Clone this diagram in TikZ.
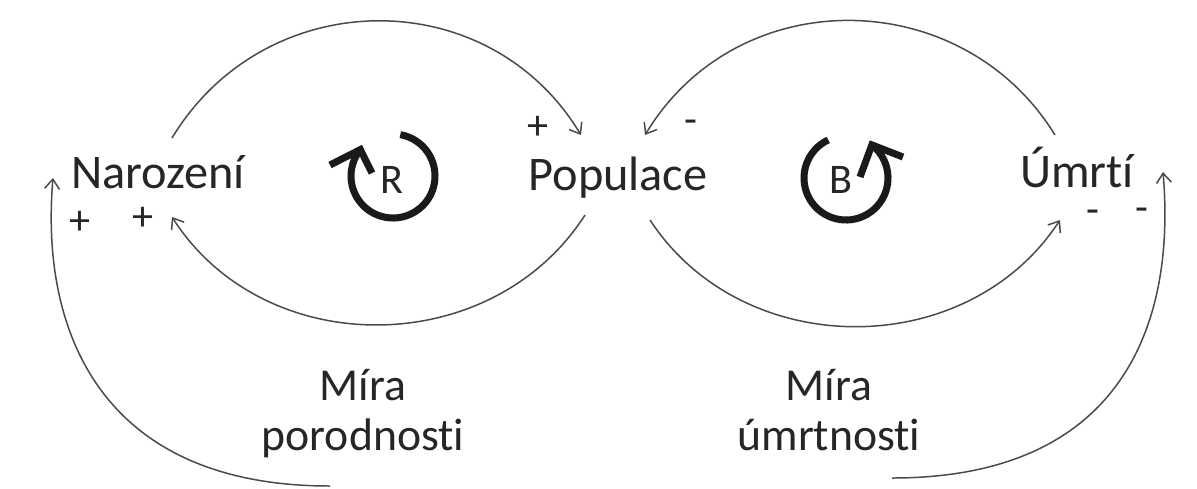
\documentclass[tikz,border=0pt]{standalone}
\usepackage{fontspec}
\setmainfont{Carlito}[Ligatures={NoCommon,NoRequired,NoContextual}]
\usetikzlibrary{arrows.meta,calc}
\definecolor{txt}{HTML}{262626}
\definecolor{ln}{HTML}{4A4A4A}
\definecolor{sym}{HTML}{1A1A1A}
\tikzset{
  lbl/.style={inner sep=0pt, text=txt, font=\fontsize{27.5pt}{28pt}\selectfont},
  rate/.style={inner sep=0pt, text=txt, align=center, anchor=north, font=\fontsize{26pt}{28.5pt}\selectfont},
  sign/.style={inner sep=0pt, text=txt, font=\fontsize{24pt}{24pt}\selectfont},
  link/.style={draw=ln, line width=0.85pt, -{Straight Barb[length=5.5pt,width=8.5pt]}},
  loopsym/.style={draw=sym, line width=4pt},
  loopchar/.style={inner sep=0pt, text=txt, font=\fontsize{24pt}{24pt}\selectfont},
}
\begin{document}
\begin{tikzpicture}[x=0.02cm,y=-0.02cm]
\useasboundingbox[fill=white] (0,0) rectangle (1197,488);
% main variables
\node[lbl, anchor=base] (nar) at (158,188) {Narození};
\node[lbl, anchor=base] (pop) at (618,190) {Populace};
\node[lbl, anchor=base] (umr) at (1077,187) {Úmrtí};
% rates
\node[rate] (mp) at (363,369) {Míra\\porodnosti};
\node[rate] (mu) at (829,369) {Míra\\úmrtnosti};
% connectors
\draw[link] ($(nar.base)+(14,-50)$) .. controls (265,-16) and (488,-19) .. ($(pop.base)+(-37,-55)$);
\draw[link] ($(pop.base)+(-33,25)$) .. controls (492,360) and (265,362) .. ($(nar.base)+(14,29)$);
\draw[link] ($(umr.base)+(-22,-52)$) .. controls (962,-16) and (738,-19) .. ($(pop.base)+(27,-55)$);
\draw[link] ($(pop.base)+(32,30)$) .. controls (743,362) and (967,362) .. ($(umr.base)+(-17,33)$);
\draw[link] ($(mp.north)+(-33,117)$) .. controls (100,486) and (40,330) .. ($(nar.base)+(-105,-10)$);
\draw[link] ($(mu.north)+(63,109)$) .. controls (1122,478) and (1176,324) .. ($(umr.base)+(86,-15)$);
% polarity signs
\node[sign] (s1) at (538,128) {+};
\node[sign] (s2) at (691,127) {-};
\node[sign] (s3) at (80,223) {+};
\node[sign] (s4) at (143,219) {+};
\node[sign] (s5) at (1093,217) {-};
\node[sign] (s6) at (1142,215) {-};
% loop symbols
\draw[loopsym] (393,176) ++(-80:42) arc[start angle=-80, end angle=219, radius=42] coordinate (rtip);
\draw[loopsym] (330,165) -- (rtip) -- (372,173);
\node[loopchar] (rl) at (392,180) {R};
\draw[loopsym] (846,178) ++(-115:42) arc[start angle=-115, end angle=-412, radius=42] coordinate (btip);
\draw[loopsym] (860,177) -- (btip) -- (903,157);
\node[loopchar] (bl) at (841,180) {B};
\end{tikzpicture}
\end{document}
